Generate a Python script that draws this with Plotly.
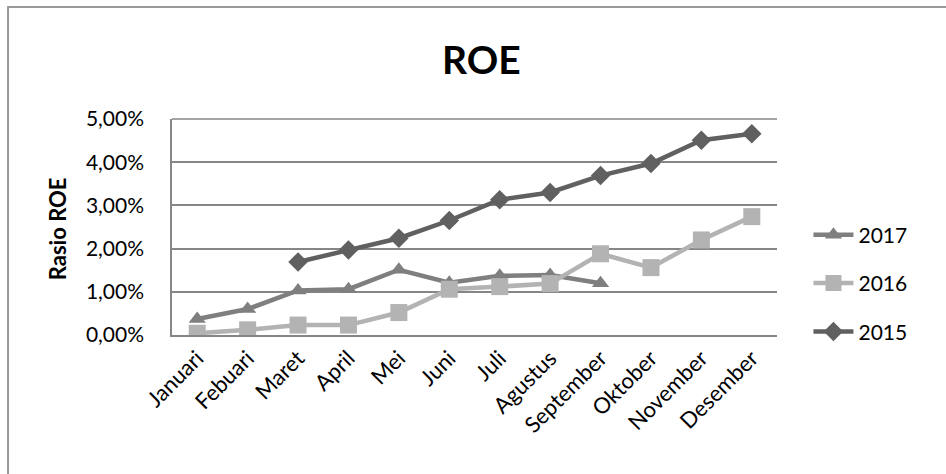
import plotly.graph_objects as go

months = ["Januari", "Febuari", "Maret", "April", "Mei", "Juni", "Juli",
          "Agustus", "September", "Oktober", "November", "Desember"]
roe_2017 = [0.37, 0.60, 1.03, 1.06, 1.51, 1.21, 1.37, 1.39, 1.20, None, None, None]
roe_2016 = [0.04, 0.12, 0.23, 0.23, 0.52, 1.06, 1.12, 1.19, 1.88, 1.56, 2.20, 2.74]
roe_2015 = [None, None, 1.69, 1.97, 2.24, 2.65, 3.13, 3.30, 3.69, 3.97, 4.51, 4.66]
y_ticks = [0, 1, 2, 3, 4, 5]
y_tick_labels = ["0,00%", "1,00%", "2,00%", "3,00%", "4,00%", "5,00%"]

FONT = "Lato"
fig = go.Figure()
series = [
    ("2017", roe_2017, "#7f7f7f", "triangle-up", 15),
    ("2016", roe_2016, "#b3b3b3", "square", 17),
    ("2015", roe_2015, "#606060", "diamond", 15),
]
for name, vals, col, sym, sz in series:
    fig.add_trace(go.Scatter(
        x=months, y=[v / 100 if v is not None else None for v in vals],
        name=name, mode="lines+markers", legendgroup=name,
        line=dict(color=col, width=4.5),
        marker=dict(symbol=sym, size=sz, color=col),
    ))

fig.update_layout(
    width=946, height=474,
    margin=dict(l=172, r=169, t=119, b=139),
    paper_bgcolor="white", plot_bgcolor="white",
    font=dict(family=FONT, size=21, color="black"),
    showlegend=True,
    legend=dict(x=1.052, xanchor="left", y=0.24, yanchor="middle",
                font=dict(size=21), tracegroupgap=18, itemwidth=40,
                bgcolor="rgba(0,0,0,0)"),
    xaxis=dict(type="category", tickangle=-45, showgrid=False,
               showline=True, linecolor="#868686", linewidth=1.5,
               ticks="", tickfont=dict(size=22), range=[-0.5, 11.5]),
    yaxis=dict(range=[0, 0.05], tickvals=[v / 100 for v in y_ticks],
               ticktext=y_tick_labels, showgrid=True, gridcolor="#868686",
               gridwidth=1.5, showline=True, linecolor="#868686", linewidth=1.5,
               ticks="", ticklabelstandoff=22, zeroline=False,
               tickfont=dict(size=21)),
    annotations=[
        dict(text="<b>ROE</b>", x=0.512, y=1.278, xref="paper", yref="paper",
             xanchor="center", yanchor="middle", showarrow=False,
             font=dict(size=39, family=FONT)),
        dict(text="<b>Rasio ROE</b>", x=-0.19, y=0.49, xref="paper", yref="paper",
             xanchor="center", yanchor="middle", showarrow=False, textangle=-90,
             font=dict(size=22, family=FONT)),
    ],
    shapes=[
        dict(type="line", xref="paper", yref="paper", x0=0, x1=1, y0=1, y1=1,
             line=dict(color="#868686", width=1.5)),
        dict(type="rect", xref="paper", yref="paper", x0=-0.271, x1=1.5,
             y0=-1.0, y1=1.519, line=dict(color="#999999", width=2)),
    ],
)

fig.write_html("out.html", config={"displayModeBar": False},
               post_script="document.body.style.margin='0';document.body.style.padding='0';")
